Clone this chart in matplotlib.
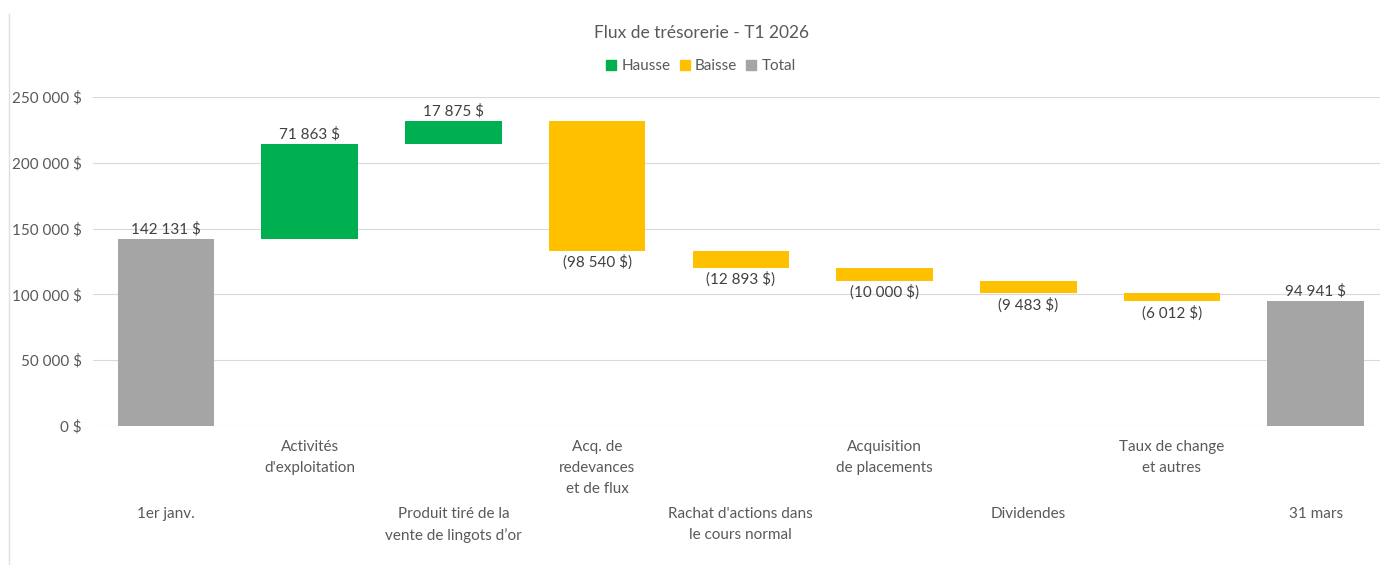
import matplotlib.pyplot as plt
from matplotlib.patches import Patch
from matplotlib.lines import Line2D
from matplotlib.transforms import blended_transform_factory

plt.rcParams['font.family'] = ['Lato', 'DejaVu Sans']

# data
categories = ["1er janv.", "Activités\nd'exploitation", "Produit tiré de la\nvente de lingots d’or",
              "Acq. de\nredevances\net de flux", "Rachat d'actions dans\nle cours normal",
              "Acquisition\nde placements", "Dividendes", "Taux de change\net autres", "31 mars"]
changes = [142131, 71863, 17875, -98540, -12893, -10000, -9483, -6012, 94941]
kinds = ["total", "up", "up", "down", "down", "down", "down", "down", "total"]
yticks = [0, 50000, 100000, 150000, 200000, 250000]

colors = {"up": "#00B050", "down": "#FFC000", "total": "#A5A5A5"}
text_col = "#595959"


def fmt(v):
    s = "{:,}".format(abs(v)).replace(",", " ") + " $"
    return "(" + s + ")" if v < 0 else s


fig = plt.figure(figsize=(13.8, 5.65), dpi=100)
ax = fig.add_axes([93 / 1380, 1 - 426 / 565, 1 - 93 / 1380, (426 - 97) / 565])

running = 0
for i, (v, k) in enumerate(zip(changes, kinds)):
    if k == "total":
        bottom, height = 0, v
        running = v
    else:
        bottom = running if v > 0 else running + v
        height = abs(v)
        running += v
    ax.bar(i, height, bottom=bottom, width=0.672, color=colors[k], zorder=3)
    if v > 0:
        ax.annotate(fmt(v), (i, bottom + height), xytext=(0, 2), textcoords="offset points",
                    ha="center", va="bottom", fontsize=11, color="#404040")
    else:
        ax.annotate(fmt(v), (i, bottom), xytext=(0, -3), textcoords="offset points",
                    ha="center", va="top", fontsize=11, color="#404040")

ax.set_xlim(-0.508, 8.448)
ax.set_ylim(0, 250000)
ax.set_yticks(yticks)
ax.set_yticklabels([fmt(t) for t in yticks], fontsize=11, color=text_col)
ax.tick_params(axis="y", length=0, pad=8)
ax.set_xticks([])
ax.grid(axis="y", color="#D9D9D9", lw=0.8, zorder=0)
for s in ax.spines.values():
    s.set_visible(False)

# staggered category labels
trans = blended_transform_factory(ax.transData, fig.transFigure)
for i, c in enumerate(categories):
    y = 1 - 440 / 565 if i % 2 == 1 else 1 - 507 / 565
    ax.text(i, y, c, transform=trans, ha="center", va="top", fontsize=11,
            color=text_col, linespacing=1.63)

fig.text(0.508, 1 - 33 / 565, "Flux de trésorerie - T1 2026", ha="center", va="center",
         fontsize=12.5, color=text_col)
handles = [Patch(color=colors["up"], label="Hausse"),
           Patch(color=colors["down"], label="Baisse"),
           Patch(color=colors["total"], label="Total")]
leg = fig.legend(handles=handles, loc="center", bbox_to_anchor=(0.508, 1 - 66.5 / 565), ncol=3,
                 frameon=False, fontsize=11, handlelength=0.65, handleheight=0.65,
                 handletextpad=0.35, columnspacing=0.6)
for t in leg.get_texts():
    t.set_color(text_col)

# chart border (left edge visible)
fig.add_artist(Line2D([9 / 1380, 9 / 1380], [0, 1 - 14 / 565], transform=fig.transFigure,
                      color="#E0E0E0", lw=1))

fig.savefig("out.png", dpi=100)
